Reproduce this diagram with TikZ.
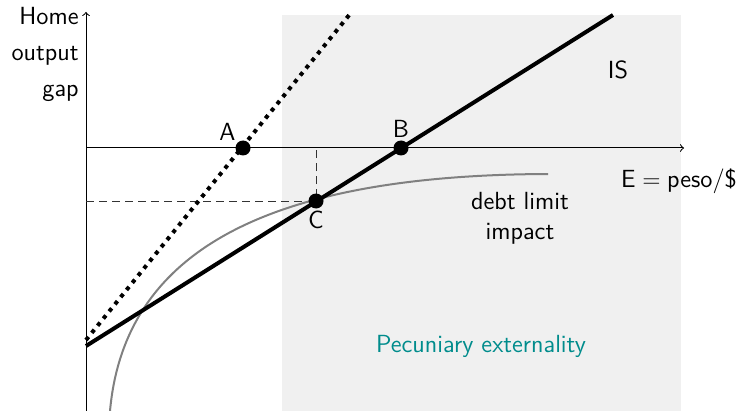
\documentclass[tikz,border=0pt]{standalone}
\renewcommand{\familydefault}{\sfdefault}
\begin{document}
\begin{tikzpicture}[x=0.5pt,y=-0.5pt,font=\fontsize{12.4}{15}\selectfont,
  dot/.style={circle, fill=black, inner sep=0pt, minimum size=7.5pt},
  axis/.style={->, line width=0.5pt},
  isline/.style={line width=2pt},
  guide/.style={black!80, line width=0.5pt, dash pattern=on 4pt off 2.5pt}]
\useasboundingbox (0,0) rectangle (742,411);
\fill[black!6] (282,15) rectangle (681,411);

\coordinate (origin) at (86,148);
\coordinate (ytop) at (86,12);
\coordinate (ybot) at (86,411);
\coordinate (xend) at (684,148);
\coordinate (ptA) at (243,148);
\coordinate (ptB) at (401,148);
\coordinate (ptC) at (316,201);
\coordinate (islo) at (86,346);
\coordinate (ishi) at (613,15);
\coordinate (dotlo) at (86,340);
\coordinate (dothi) at (350,14);

\draw[axis] (ybot) -- (ytop);
\draw[axis] (origin) -- (xend);

\node[align=right, anchor=north east, inner sep=0pt] (ylabel) at (79,7) {Home\\[3pt] output\\[3pt] gap};
\node (elabel) at (679,181) {E${}={}$peso/\$};
\node (islabel) at (618,70) {IS};
\node[align=center] (debt) at (520,218) {debt limit\\ impact};
\node[text=teal!90!cyan] (pecuniary) at (481,346) {Pecuniary externality};

\draw[guide] (origin |- ptC) -- (ptC) -- (origin -| ptC);
\draw[gray, line width=1pt] (110,411) .. controls (124,255) and (260,175) .. (548,174);
\draw[isline, dash pattern=on 2pt off 2.6pt] (dotlo) -- (dothi);
\draw[isline] (islo) -- (ishi);

\node[dot, label={[label distance=-3.5pt]above left:A}] (A) at (ptA) {};
\node[dot, label={[label distance=-2pt]above:B}] (B) at (ptB) {};
\node[dot, label={[label distance=-2.5pt]below:C}] (C) at (ptC) {};
\end{tikzpicture}
\end{document}
